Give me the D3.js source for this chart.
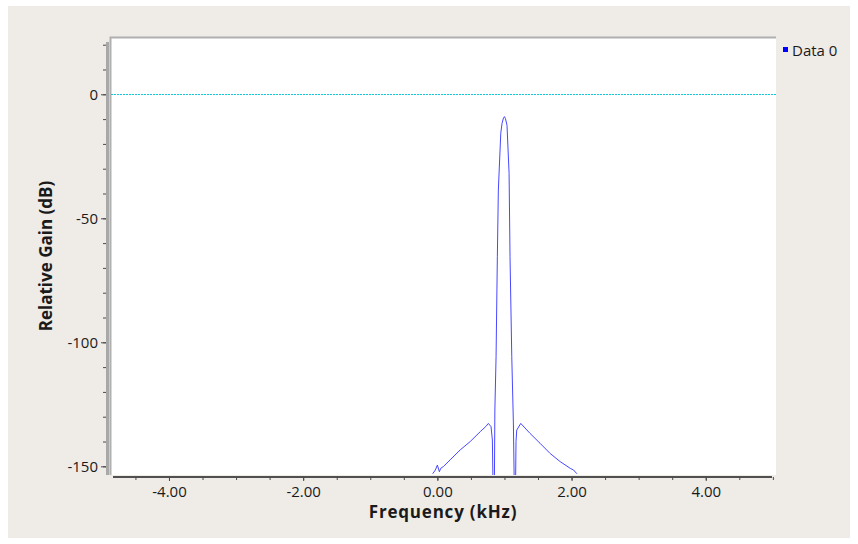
<!DOCTYPE html>
<meta charset="utf-8">
<style>
body { margin: 0; background: #fff; }
text { font-family: "Open Sans", sans-serif; fill: #1a1a1a; }
.axis .domain { display: none; }
.axis line { stroke: #4a4a4a; }
</style>
<svg width="858" height="544"></svg>
<script src="https://d3js.org/d3.v7.min.js"></script>
<script>
    // filter response (kHz, dB)
    var freqs = [-0.07, -0.03, 0.0, 0.03, 0.05, 0.09, 0.19, 0.34, 0.49, 0.64, 0.72, 0.76, 0.80, 0.82,
                 0.833, 0.848, 0.857, 0.875, 0.894, 0.909, 0.945, 0.964, 0.985, 1.0, 1.015, 1.038,
                 1.069, 1.083, 1.109, 1.133, 1.15, 1.163, 1.172, 1.183, 1.243, 1.38, 1.53, 1.68,
                 1.83, 1.98, 2.03, 2.08];
    var gains = [-153, -151.5, -149.5, -152.2, -150.8, -150.1, -147.4, -143.4, -140, -136, -134, -132.7, -134, -139.4,
                 -165, -165, -127.3, -105.8, -65.5, -38.6, -15.7, -11.7, -9.6, -9.0, -9.8, -12.5,
                 -31.9, -65.5, -105.8, -132.5, -165, -165, -140, -135.4, -132.7, -136.7, -140.7, -144.8,
                 -148.1, -150.8, -151.5, -153];
    var xMajor = [-4, -2, 0, 2, 4];
    var xMinor = d3.range(-4.5, 5.01, 0.5);
    var yMajor = [-150, -100, -50, 0];
    var yMinor = d3.range(-150, 21, 10);
    var seriesName = "Data 0";

    var data = freqs.map(function(f, i) { return [f, gains[i]]; });

    var svg = d3.select("svg"),
        plot = {left: 110, right: 776, top: 37, bottom: 475};

    svg.append("rect")
        .attr("x", 8).attr("y", 6).attr("width", 842).attr("height", 532)
        .attr("fill", "#efebe7");

    var x = d3.scaleLinear()
        .domain([-4.879, 5.047])
        .range([plot.left, plot.right]);

    var y = d3.scaleLinear()
        .domain([-153.5, 23.1])
        .range([plot.bottom, plot.top]);

    var hyphen = function(f) { return function(d) { return f(d).replace("\u2212", "-"); }; };

    // canvas
    svg.append("rect")
        .attr("x", plot.left).attr("y", plot.top)
        .attr("width", plot.right - plot.left).attr("height", plot.bottom - plot.top)
        .attr("fill", "#fff");
    svg.append("path")
        .attr("d", "M" + (plot.left + 0.5) + "," + plot.bottom + "V" + (plot.top + 0.5) + "H" + plot.right)
        .attr("fill", "none").attr("stroke", "#b0b0b0").attr("stroke-width", 2);

    svg.append("defs").append("clipPath").attr("id", "clip")
      .append("rect")
        .attr("x", plot.left + 1).attr("y", plot.top + 1)
        .attr("width", plot.right - plot.left - 1).attr("height", plot.bottom - plot.top - 1);

    // zero reference
    var y0 = Math.floor(y(0)) + 0.5;
    svg.append("line")
        .attr("x1", plot.left + 1).attr("x2", plot.right)
        .attr("y1", y0).attr("y2", y0)
        .attr("stroke", "#10c8d8").attr("stroke-dasharray", "2,1");

    svg.append("path")
        .datum(data)
        .attr("clip-path", "url(#clip)")
        .attr("fill", "none")
        .attr("stroke", "#4848ff")
        .attr("stroke-width", 1)
        .attr("d", d3.line()
            .x(function(d) { return x(d[0]); })
            .y(function(d) { return y(d[1]); }));

    // y axis
    svg.append("rect")
        .attr("x", 106).attr("y", 42).attr("width", 3).attr("height", plot.bottom - 42)
        .attr("fill", "#a8a8a8");
    svg.append("g")
        .attr("class", "axis")
        .attr("transform", "translate(106,0)")
        .call(d3.axisLeft(y).tickValues(yMinor).tickSize(3).tickFormat(""));
    svg.append("g")
        .attr("class", "axis axis--y")
        .attr("transform", "translate(106,0)")
        .call(d3.axisLeft(y).tickValues(yMajor).tickSize(5).tickPadding(3).tickFormat(hyphen(d3.format("d"))))
        .selectAll("text")
        .attr("font-size", 15).attr("font-family", "Open Sans").attr("fill", "#111");

    // x axis
    svg.append("line")
        .attr("x1", 113).attr("x2", 772)
        .attr("y1", 477).attr("y2", 477)
        .attr("stroke", "#505050").attr("stroke-width", 2);
    svg.append("g")
        .attr("class", "axis")
        .attr("transform", "translate(0,477)")
        .call(d3.axisBottom(x).tickValues(xMinor).tickSize(3).tickFormat(""));
    svg.append("g")
        .attr("class", "axis axis--x")
        .attr("transform", "translate(0,477)")
        .call(d3.axisBottom(x).tickValues(xMajor).tickSize(4).tickPadding(5).tickFormat(hyphen(d3.format(".2f"))))
        .selectAll("text")
        .attr("font-size", 15).attr("font-family", "Open Sans").attr("fill", "#111");

    svg.append("text")
        .attr("x", 443).attr("y", 518)
        .attr("text-anchor", "middle")
        .attr("font-size", 17).attr("font-weight", "bold")
        .attr("letter-spacing", 0.8)
        .text("Frequency (kHz)");

    svg.append("text")
        .attr("transform", "translate(52,256) rotate(-90)")
        .attr("text-anchor", "middle")
        .attr("font-size", 17).attr("font-weight", "bold")
        .text("Relative Gain (dB)");

    // legend
    svg.append("rect")
        .attr("x", 783).attr("y", 47).attr("width", 5).attr("height", 5)
        .attr("fill", "#0000ff");
    svg.append("text")
        .attr("x", 792).attr("y", 56)
        .attr("font-size", 15)
        .text(seriesName);
</script>
